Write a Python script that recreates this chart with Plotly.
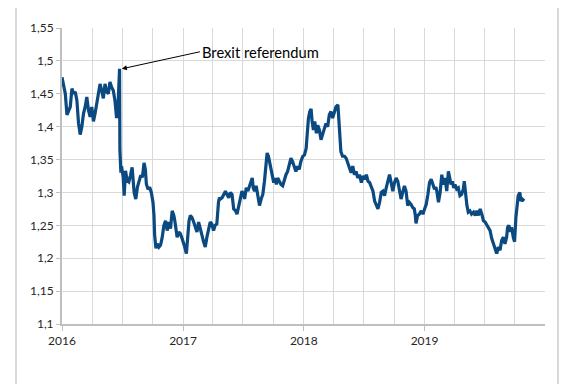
import plotly.graph_objects as go

dates = [
    "2016-01-01","2016-01-06","2016-01-11","2016-01-16","2016-01-21","2016-01-26","2016-01-31",
    "2016-02-05","2016-02-10","2016-02-15","2016-02-20","2016-02-25","2016-03-01","2016-03-06",
    "2016-03-11","2016-03-16","2016-03-21","2016-03-26","2016-03-31","2016-04-05","2016-04-10",
    "2016-04-15","2016-04-20","2016-04-25","2016-04-30","2016-05-05","2016-05-10","2016-05-15",
    "2016-05-20","2016-05-25","2016-05-30","2016-06-04","2016-06-09","2016-06-14","2016-06-19",
    "2016-06-23","2016-06-24","2016-06-27","2016-06-29","2016-07-04","2016-07-07","2016-07-11",
    "2016-07-16","2016-07-21","2016-07-26","2016-07-31","2016-08-06","2016-08-11","2016-08-16",
    "2016-08-21","2016-08-26","2016-08-31","2016-09-05","2016-09-09","2016-09-12","2016-09-17",
    "2016-09-22","2016-09-27","2016-10-02","2016-10-05","2016-10-07","2016-10-11","2016-10-15",
    "2016-10-20","2016-10-25","2016-10-30","2016-11-04","2016-11-09","2016-11-14","2016-11-19",
    "2016-11-24","2016-11-29","2016-12-04","2016-12-07","2016-12-10","2016-12-14","2016-12-19",
    "2016-12-24","2016-12-29",
    "2017-01-02","2017-01-06","2017-01-11","2017-01-14","2017-01-19","2017-01-23","2017-01-28",
    "2017-02-02","2017-02-07","2017-02-12","2017-02-17","2017-02-22","2017-02-27","2017-03-04",
    "2017-03-09","2017-03-14","2017-03-19","2017-03-24","2017-03-29","2017-04-03","2017-04-08",
    "2017-04-13","2017-04-18","2017-04-21","2017-04-24","2017-04-29","2017-05-04","2017-05-09",
    "2017-05-14","2017-05-19","2017-05-24","2017-05-29","2017-06-03","2017-06-09","2017-06-13",
    "2017-06-18","2017-06-23","2017-06-28","2017-07-03","2017-07-06","2017-07-11","2017-07-16",
    "2017-07-21","2017-07-26","2017-07-29","2017-08-01","2017-08-05","2017-08-10","2017-08-15",
    "2017-08-20","2017-08-25","2017-08-30","2017-09-04","2017-09-09","2017-09-12","2017-09-16",
    "2017-09-20","2017-09-24","2017-09-29","2017-10-02","2017-10-06","2017-10-10","2017-10-14",
    "2017-10-19","2017-10-24","2017-10-29","2017-11-03","2017-11-08","2017-11-13","2017-11-18",
    "2017-11-23","2017-11-28","2017-12-03","2017-12-08","2017-12-13","2017-12-18","2017-12-23",
    "2017-12-29",
    "2018-01-03","2018-01-08","2018-01-11","2018-01-15","2018-01-19","2018-01-23","2018-01-26",
    "2018-01-30","2018-02-03","2018-02-08","2018-02-12","2018-02-17","2018-02-22","2018-02-27",
    "2018-03-04","2018-03-09","2018-03-14","2018-03-19","2018-03-24","2018-03-29","2018-04-03",
    "2018-04-08","2018-04-14","2018-04-17","2018-04-20","2018-04-23","2018-04-28","2018-05-04",
    "2018-05-09","2018-05-14","2018-05-19","2018-05-24","2018-05-29","2018-06-03","2018-06-08",
    "2018-06-13","2018-06-18","2018-06-24","2018-06-29","2018-07-04","2018-07-09","2018-07-14",
    "2018-07-19","2018-07-24","2018-07-29","2018-08-03","2018-08-08","2018-08-13","2018-08-18",
    "2018-08-23","2018-08-28","2018-09-02","2018-09-07","2018-09-12","2018-09-17","2018-09-22",
    "2018-09-27","2018-10-02","2018-10-07","2018-10-12","2018-10-17","2018-10-22","2018-10-27",
    "2018-11-01","2018-11-06","2018-11-11","2018-11-16","2018-11-21","2018-11-26","2018-12-01",
    "2018-12-04","2018-12-06","2018-12-11","2018-12-16","2018-12-22","2018-12-27",
    "2019-01-01","2019-01-06","2019-01-11","2019-01-16","2019-01-21","2019-01-26","2019-01-31",
    "2019-02-04","2019-02-07","2019-02-12","2019-02-17","2019-02-22","2019-02-27","2019-03-04",
    "2019-03-09","2019-03-14","2019-03-18","2019-03-22","2019-03-26","2019-03-30","2019-04-03",
    "2019-04-08","2019-04-13","2019-04-18","2019-04-23","2019-04-28","2019-05-01","2019-05-05",
    "2019-05-09","2019-05-13","2019-05-18","2019-05-23","2019-05-29","2019-06-03","2019-06-08",
    "2019-06-13","2019-06-18","2019-06-23","2019-06-28","2019-07-03","2019-07-08","2019-07-13",
    "2019-07-18","2019-07-23","2019-07-28","2019-08-02","2019-08-07","2019-08-12","2019-08-17",
    "2019-08-22","2019-08-27","2019-09-01","2019-09-06","2019-09-09","2019-09-13","2019-09-17",
    "2019-09-21","2019-09-26","2019-09-30","2019-10-04","2019-10-07","2019-10-11","2019-10-16",
    "2019-10-19","2019-10-23","2019-10-29",
]

gbp_usd = [
    1.475,1.465,1.450,1.418,1.425,1.430,1.458,
    1.450,1.453,1.440,1.405,1.388,1.400,1.420,
    1.430,1.445,1.425,1.415,1.430,1.408,1.420,
    1.435,1.450,1.465,1.455,1.443,1.465,1.453,
    1.450,1.468,1.460,1.455,1.440,1.413,1.440,
    1.488,1.365,1.330,1.340,1.323,1.295,1.333,
    1.318,1.316,1.326,1.338,1.300,1.290,1.308,
    1.316,1.326,1.323,1.345,1.335,1.313,1.305,
    1.308,1.300,1.285,1.265,1.235,1.215,1.222,
    1.217,1.220,1.232,1.250,1.257,1.242,1.255,
    1.245,1.272,1.265,1.257,1.247,1.232,1.240,
    1.237,1.230,
    1.225,1.217,1.207,1.227,1.257,1.265,1.262,
    1.255,1.247,1.240,1.255,1.247,1.235,1.225,
    1.217,1.232,1.247,1.255,1.252,1.242,1.250,
    1.252,1.285,1.292,1.290,1.292,1.297,1.302,
    1.297,1.292,1.300,1.297,1.275,1.272,1.267,
    1.280,1.295,1.302,1.297,1.290,1.307,1.302,
    1.310,1.317,1.322,1.307,1.302,1.310,1.292,
    1.280,1.290,1.297,1.317,1.340,1.360,1.355,
    1.345,1.332,1.317,1.315,1.322,1.312,1.322,
    1.317,1.312,1.310,1.320,1.327,1.332,1.340,
    1.352,1.347,1.337,1.332,1.340,1.335,1.347,
    1.355,
    1.357,1.367,1.387,1.413,1.423,1.427,1.408,
    1.395,1.408,1.390,1.402,1.395,1.380,1.387,
    1.397,1.405,1.400,1.418,1.423,1.413,1.420,
    1.430,1.433,1.410,1.385,1.362,1.355,1.355,
    1.352,1.345,1.340,1.330,1.340,1.327,1.332,
    1.322,1.327,1.315,1.325,1.320,1.327,1.317,
    1.315,1.307,1.302,1.287,1.280,1.275,1.285,
    1.300,1.302,1.295,1.307,1.317,1.327,1.315,
    1.302,1.315,1.322,1.317,1.302,1.290,1.300,
    1.310,1.302,1.280,1.285,1.282,1.277,1.275,
    1.265,1.253,1.265,1.267,1.272,1.267,
    1.275,1.282,1.297,1.315,1.320,1.312,1.305,
    1.308,1.302,1.285,1.300,1.327,1.312,1.322,
    1.302,1.332,1.322,1.312,1.317,1.307,1.312,
    1.305,1.307,1.295,1.297,1.305,1.317,1.297,
    1.280,1.270,1.272,1.267,1.270,1.265,1.272,
    1.265,1.275,1.267,1.257,1.255,1.250,1.247,
    1.242,1.230,1.222,1.215,1.207,1.217,1.212,
    1.227,1.232,1.222,1.232,1.247,1.250,1.240,
    1.247,1.232,1.225,1.262,1.277,1.295,1.300,
    1.287,1.290,1.287,
]

year_ticks = ["2016-01-01", "2017-01-01", "2018-01-01", "2019-01-01"]
year_labels = ["2016", "2017", "2018", "2019"]
y_ticks = [1.1, 1.15, 1.2, 1.25, 1.3, 1.35, 1.4, 1.45, 1.5, 1.55]
y_labels = ["1,1", "1,15", "1,2", "1,25", "1,3", "1,35", "1,4", "1,45", "1,5", "1,55"]

event_date = "2016-06-30"
event_value = 1.488
event_label = "Brexit referendum"

FONT = "Lato, Carlito, 'DejaVu Sans', sans-serif"
GRID = "#d9d9d9"
AXIS = "#bfbfbf"

fig = go.Figure()
fig.add_trace(go.Scatter(
    x=dates, y=gbp_usd, mode="lines",
    line=dict(color="#0b4a80", width=3.2),
    showlegend=False, hoverinfo="skip",
))

fig.add_annotation(
    x=event_date, y=event_value, xref="x", yref="y",
    text=event_label, showarrow=True,
    ax=78, ay=-17, xanchor="left", yanchor="middle",
    arrowhead=2, arrowsize=1, arrowwidth=1, arrowcolor="#000000",
    font=dict(family=FONT, size=14.7, color="#000000"),
)

# chart-area border (light grey vertical lines at left and right)
for xp in (-0.0952, 1.0269):
    fig.add_shape(type="line", xref="paper", yref="paper",
                  x0=xp, x1=xp, y0=-0.205, y1=1.09,
                  line=dict(color=GRID, width=2))

fig.update_layout(
    width=565, height=376,
    margin=dict(l=54, r=28, t=17, b=60),
    paper_bgcolor="white", plot_bgcolor="white",
    font=dict(family=FONT, size=12, color="#262626"),
    xaxis=dict(
        type="date", range=["2016-01-01", "2019-12-31"],
        tickmode="array", tickvals=year_ticks, ticktext=year_labels,
        ticks="outside", ticklen=5, tickcolor=AXIS, tickwidth=1,
        showline=True, linecolor=AXIS, linewidth=1.5,
        showgrid=True, gridcolor=GRID, gridwidth=1,
        minor=dict(tickmode="linear", tick0="2016-01-01", dtick="M3",
                   showgrid=True, gridcolor=GRID, gridwidth=1, ticks=""),
        zeroline=False, tickfont=dict(size=12, color="#262626"),
    ),
    yaxis=dict(
        range=[1.1, 1.55],
        tickmode="array", tickvals=y_ticks, ticktext=y_labels,
        ticks="outside", ticklen=4, tickcolor=AXIS, tickwidth=1,
        showline=True, linecolor=AXIS, linewidth=2,
        showgrid=True, gridcolor=GRID, gridwidth=1,
        zeroline=False, tickfont=dict(size=12, color="#262626"),
    ),
)

fig.write_html("out.html")
